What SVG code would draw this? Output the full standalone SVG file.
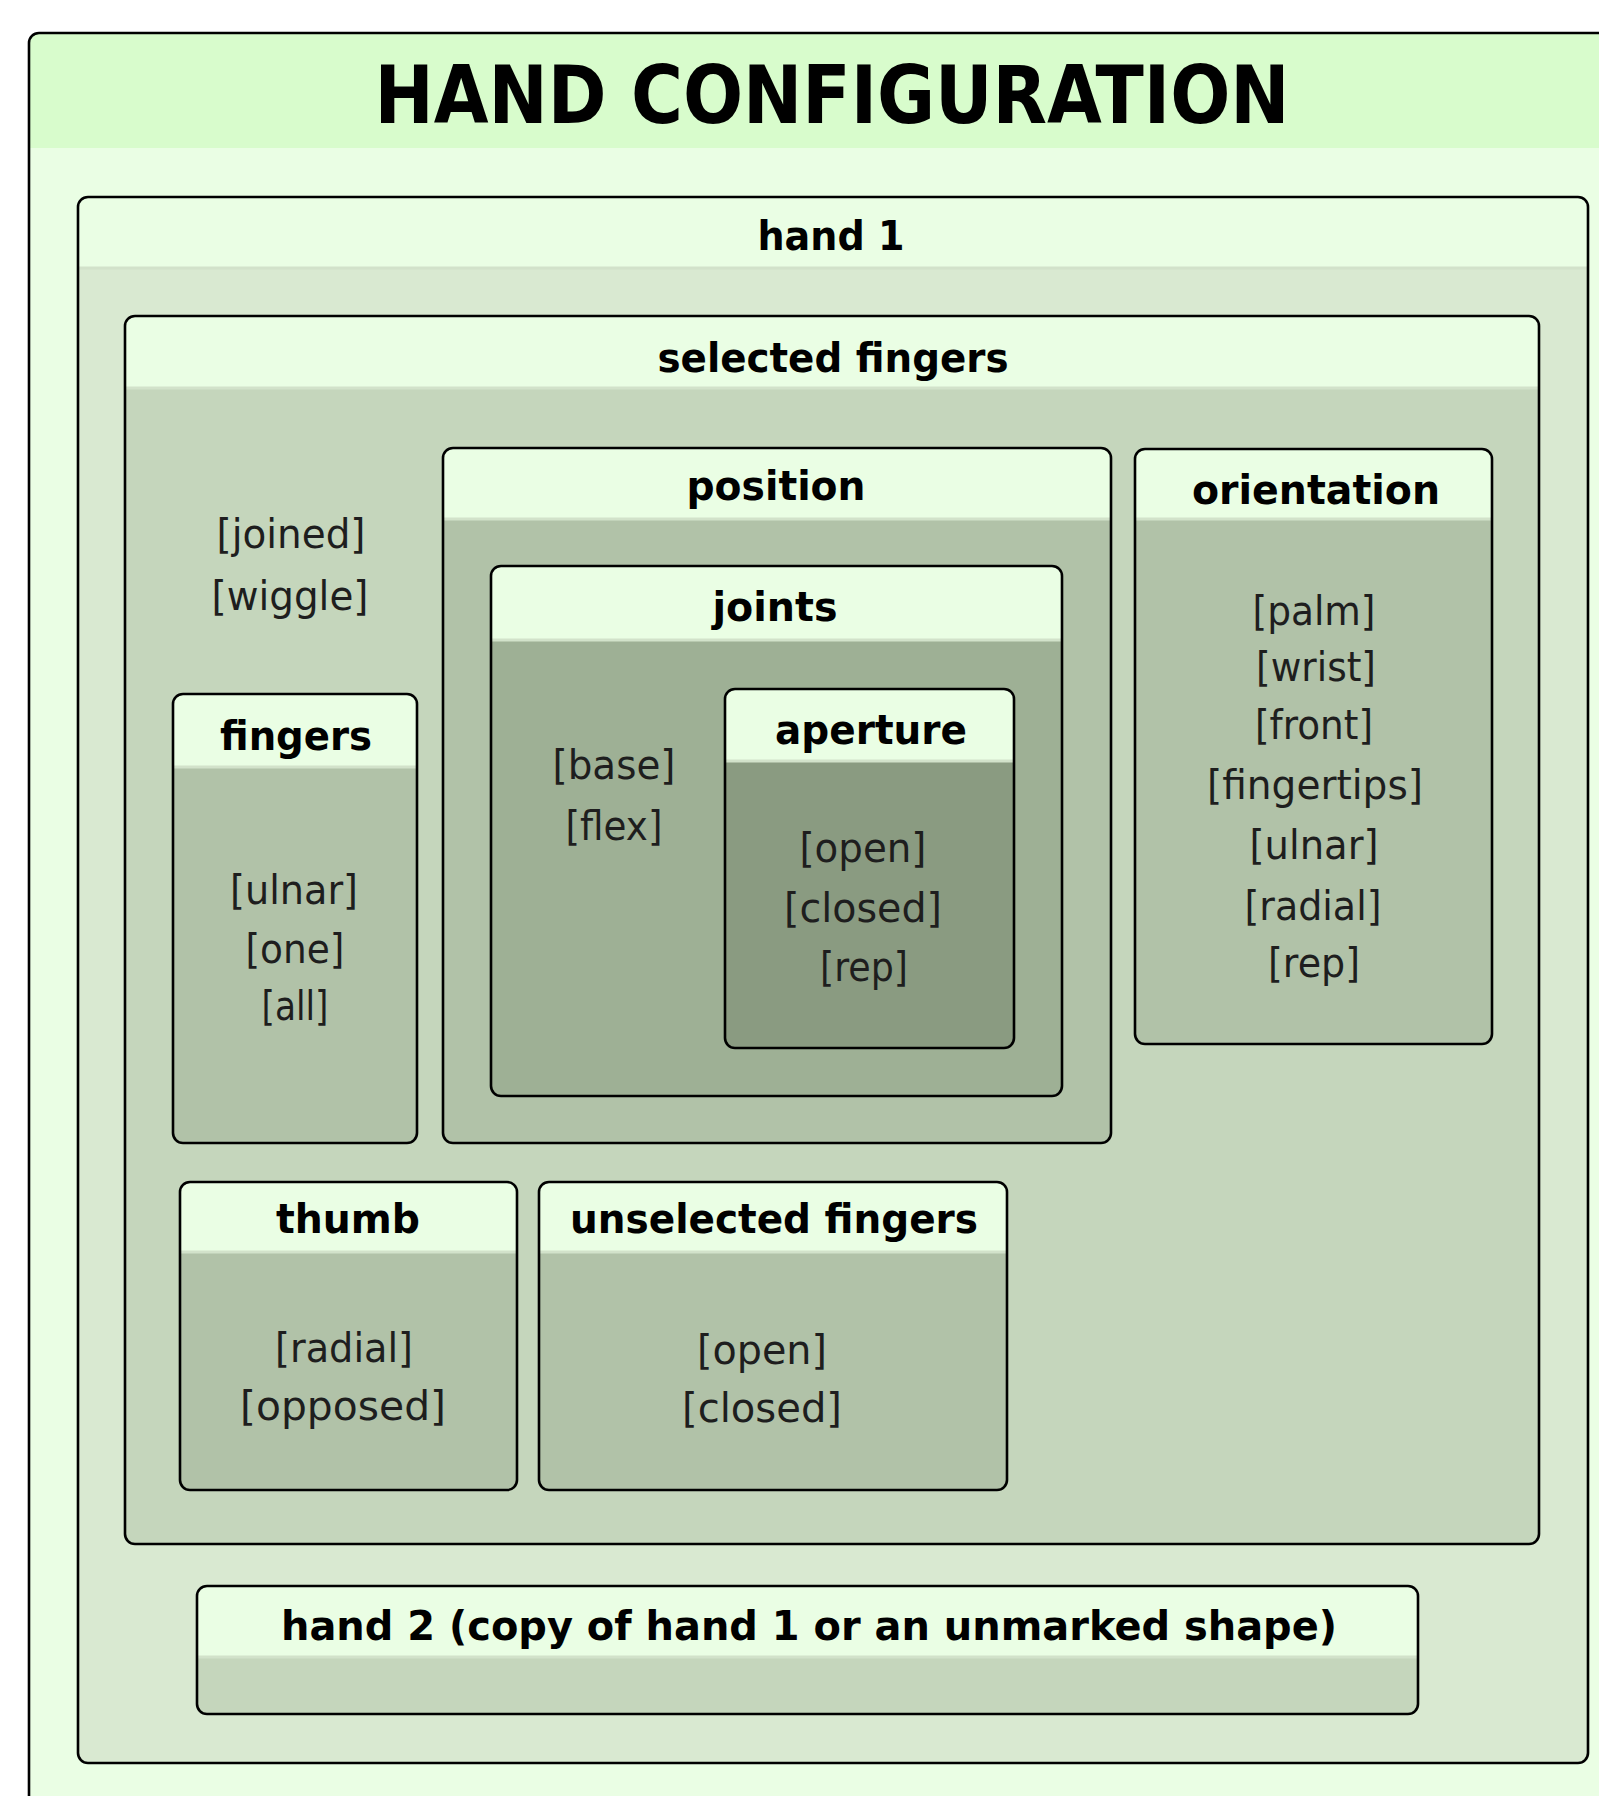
<svg xmlns="http://www.w3.org/2000/svg" width="1599" height="1796" viewBox="0 0 1599 1796">
  <style>
    .frame { fill: none; stroke: #000; stroke-width: 2.6; }
    .head { fill: #eafee4; }
    .sep { stroke: #d2e2ca; stroke-width: 3; }
    .b1 { fill: #d9e9d1; }
    .b2 { fill: #c5d6bc; }
    .b3 { fill: #b1c2a8; }
    .b4 { fill: #9eb095; }
    .b5 { fill: #8a9b81; }
    .title { font-family: "DejaVu Sans Condensed", "DejaVu Sans", "Liberation Sans", sans-serif; font-weight: bold; font-size: 80px; fill: #000; text-anchor: middle; }
    .label { font-family: "DejaVu Sans", "Liberation Sans", sans-serif; font-weight: bold; font-size: 40px; fill: #000; text-anchor: middle; }
    .item { font-family: "DejaVu Sans", "Liberation Sans", sans-serif; font-size: 40px; fill: #1e1e1e; text-anchor: middle; }
  </style>

  <rect width="1599" height="1796" fill="#ffffff"/>

  <!-- outer frame with title band -->
  <g id="hand-configuration">
    <rect x="29" y="33" width="1600" height="1800" rx="10" fill="#eafee4"/>
    <path d="M29,148 V43 Q29,33 39,33 H1629 V148 Z" fill="#d8fccc"/>
    <rect x="29" y="33" width="1600" height="1800" rx="10" class="frame"/>
    <text x="832" y="123" class="title" textLength="915" lengthAdjust="spacingAndGlyphs">HAND CONFIGURATION</text>
  </g>

  <!-- hand 1 -->
  <g id="hand1">
    <rect x="78" y="197" width="1510" height="1566" rx="10" class="b1"/>
    <path d="M78,269 V207 Q78,197 88,197 H1578 Q1588,197 1588,207 V269 Z" class="head"/>
    <line x1="78" y1="268" x2="1588" y2="268" class="sep"/>
    <rect x="78" y="197" width="1510" height="1566" rx="10" class="frame"/>
    <text x="831" y="250" class="label" textLength="147" lengthAdjust="spacingAndGlyphs">hand 1</text>
  </g>

  <!-- selected fingers -->
  <g id="selected-fingers">
    <rect x="125" y="316" width="1414" height="1228" rx="10" class="b2"/>
    <path d="M125,389 V326 Q125,316 135,316 H1529 Q1539,316 1539,326 V389 Z" class="head"/>
    <line x1="125" y1="388" x2="1539" y2="388" class="sep"/>
    <rect x="125" y="316" width="1414" height="1228" rx="10" class="frame"/>
    <text x="833" y="372" class="label" textLength="351" lengthAdjust="spacingAndGlyphs">selected fingers</text>
    <text x="291" y="548" class="item" textLength="149" lengthAdjust="spacingAndGlyphs">[joined]</text>
    <text x="290" y="610" class="item" textLength="157" lengthAdjust="spacingAndGlyphs">[wiggle]</text>
  </g>

  <!-- fingers -->
  <g id="fingers">
    <rect x="173" y="694" width="244" height="449" rx="10" class="b3"/>
    <path d="M173,768 V704 Q173,694 183,694 H407 Q417,694 417,704 V768 Z" class="head"/>
    <line x1="173" y1="767" x2="417" y2="767" class="sep"/>
    <rect x="173" y="694" width="244" height="449" rx="10" class="frame"/>
    <text x="296" y="750" class="label" textLength="152" lengthAdjust="spacingAndGlyphs">fingers</text>
    <text x="294" y="904" class="item" textLength="128" lengthAdjust="spacingAndGlyphs">[ulnar]</text>
    <text x="295" y="963" class="item" textLength="99" lengthAdjust="spacingAndGlyphs">[one]</text>
    <text x="295" y="1020" class="item" textLength="67" lengthAdjust="spacingAndGlyphs">[all]</text>
  </g>

  <!-- position -->
  <g id="position">
    <rect x="443" y="448" width="668" height="695" rx="10" class="b3"/>
    <path d="M443,520 V458 Q443,448 453,448 H1101 Q1111,448 1111,458 V520 Z" class="head"/>
    <line x1="443" y1="519" x2="1111" y2="519" class="sep"/>
    <rect x="443" y="448" width="668" height="695" rx="10" class="frame"/>
    <text x="776" y="500" class="label" textLength="179" lengthAdjust="spacingAndGlyphs">position</text>
  </g>

  <!-- joints -->
  <g id="joints">
    <rect x="491" y="566" width="571" height="530" rx="10" class="b4"/>
    <path d="M491,641 V576 Q491,566 501,566 H1052 Q1062,566 1062,576 V641 Z" class="head"/>
    <line x1="491" y1="640" x2="1062" y2="640" class="sep"/>
    <rect x="491" y="566" width="571" height="530" rx="10" class="frame"/>
    <text x="775" y="621" class="label" textLength="125" lengthAdjust="spacingAndGlyphs">joints</text>
    <text x="614" y="779" class="item" textLength="123" lengthAdjust="spacingAndGlyphs">[base]</text>
    <text x="614" y="840" class="item" textLength="97" lengthAdjust="spacingAndGlyphs">[flex]</text>
  </g>

  <!-- aperture -->
  <g id="aperture">
    <rect x="725" y="689" width="289" height="359" rx="10" class="b5"/>
    <path d="M725,762 V699 Q725,689 735,689 H1004 Q1014,689 1014,699 V762 Z" class="head"/>
    <line x1="725" y1="761" x2="1014" y2="761" class="sep"/>
    <rect x="725" y="689" width="289" height="359" rx="10" class="frame"/>
    <text x="871" y="744" class="label" textLength="192" lengthAdjust="spacingAndGlyphs">aperture</text>
    <text x="863" y="862" class="item" textLength="127" lengthAdjust="spacingAndGlyphs">[open]</text>
    <text x="863" y="922" class="item" textLength="158" lengthAdjust="spacingAndGlyphs">[closed]</text>
    <text x="864" y="981" class="item" textLength="88" lengthAdjust="spacingAndGlyphs">[rep]</text>
  </g>

  <!-- orientation -->
  <g id="orientation">
    <rect x="1135" y="449" width="357" height="595" rx="10" class="b3"/>
    <path d="M1135,520 V459 Q1135,449 1145,449 H1482 Q1492,449 1492,459 V520 Z" class="head"/>
    <line x1="1135" y1="519" x2="1492" y2="519" class="sep"/>
    <rect x="1135" y="449" width="357" height="595" rx="10" class="frame"/>
    <text x="1316" y="504" class="label" textLength="248" lengthAdjust="spacingAndGlyphs">orientation</text>
    <text x="1314" y="625" class="item" textLength="123" lengthAdjust="spacingAndGlyphs">[palm]</text>
    <text x="1316" y="681" class="item" textLength="120" lengthAdjust="spacingAndGlyphs">[wrist]</text>
    <text x="1314" y="739" class="item" textLength="118" lengthAdjust="spacingAndGlyphs">[front]</text>
    <text x="1315" y="799" class="item" textLength="216" lengthAdjust="spacingAndGlyphs">[fingertips]</text>
    <text x="1314" y="859" class="item" textLength="129" lengthAdjust="spacingAndGlyphs">[ulnar]</text>
    <text x="1313" y="920" class="item" textLength="137" lengthAdjust="spacingAndGlyphs">[radial]</text>
    <text x="1314" y="977" class="item" textLength="92" lengthAdjust="spacingAndGlyphs">[rep]</text>
  </g>

  <!-- thumb -->
  <g id="thumb">
    <rect x="180" y="1182" width="337" height="308" rx="10" class="b3"/>
    <path d="M180,1253 V1192 Q180,1182 190,1182 H507 Q517,1182 517,1192 V1253 Z" class="head"/>
    <line x1="180" y1="1252" x2="517" y2="1252" class="sep"/>
    <rect x="180" y="1182" width="337" height="308" rx="10" class="frame"/>
    <text x="348" y="1233" class="label" textLength="144" lengthAdjust="spacingAndGlyphs">thumb</text>
    <text x="344" y="1362" class="item" textLength="138" lengthAdjust="spacingAndGlyphs">[radial]</text>
    <text x="343" y="1420" class="item" textLength="206" lengthAdjust="spacingAndGlyphs">[opposed]</text>
  </g>

  <!-- unselected fingers -->
  <g id="unselected-fingers">
    <rect x="539" y="1182" width="468" height="308" rx="10" class="b3"/>
    <path d="M539,1253 V1192 Q539,1182 549,1182 H997 Q1007,1182 1007,1192 V1253 Z" class="head"/>
    <line x1="539" y1="1252" x2="1007" y2="1252" class="sep"/>
    <rect x="539" y="1182" width="468" height="308" rx="10" class="frame"/>
    <text x="774" y="1233" class="label" textLength="408" lengthAdjust="spacingAndGlyphs">unselected fingers</text>
    <text x="762" y="1364" class="item" textLength="130" lengthAdjust="spacingAndGlyphs">[open]</text>
    <text x="762" y="1422" class="item" textLength="160" lengthAdjust="spacingAndGlyphs">[closed]</text>
  </g>

  <!-- hand 2 -->
  <g id="hand2">
    <rect x="197" y="1586" width="1221" height="128" rx="10" class="b2"/>
    <path d="M197,1658 V1596 Q197,1586 207,1586 H1408 Q1418,1586 1418,1596 V1658 Z" class="head"/>
    <line x1="197" y1="1657" x2="1418" y2="1657" class="sep"/>
    <rect x="197" y="1586" width="1221" height="128" rx="10" class="frame"/>
    <text x="809" y="1640" class="label" textLength="1056" lengthAdjust="spacingAndGlyphs">hand 2 (copy of hand 1 or an unmarked shape)</text>
  </g>

  <!-- no connectors in this diagram -->
  <g id="connectors"/>
</svg>
